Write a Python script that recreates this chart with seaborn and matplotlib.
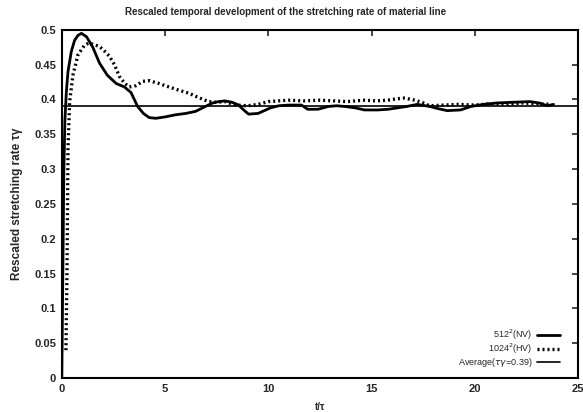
import matplotlib
matplotlib.use("Agg")
import matplotlib.pyplot as plt
import seaborn as sns
import pandas as pd

# ---- data ----
t_512 = [0, 0.05, 0.1, 0.15, 0.22, 0.3, 0.46, 0.62, 0.78, 0.95, 1.2, 1.5, 1.83, 2.2, 2.63,
         3.03, 3.35, 3.67, 3.95, 4.23, 4.55, 5.0, 5.5, 6.0, 6.48, 6.95, 7.3, 7.6, 7.9, 8.24,
         8.56, 8.8, 9.04, 9.5, 10.1, 10.5, 10.96, 11.6, 11.9, 12.4, 12.9, 13.3, 13.7, 14.2,
         14.65, 15.3, 15.8, 16.25, 16.7, 17.2, 17.8, 18.2, 18.65, 19.3, 19.8, 20.4, 21.05,
         21.8, 22.65, 23.1, 23.5, 23.8]
v_512 = [0.0, 0.15, 0.3, 0.37, 0.411, 0.44, 0.469, 0.485, 0.492, 0.495, 0.49, 0.475, 0.452,
         0.435, 0.423, 0.418, 0.41, 0.39, 0.38, 0.374, 0.373, 0.375, 0.378, 0.38, 0.383, 0.39,
         0.395, 0.397, 0.398, 0.396, 0.392, 0.385, 0.379, 0.380, 0.388, 0.391, 0.392, 0.392,
         0.386, 0.386, 0.39, 0.391, 0.39, 0.388, 0.385, 0.385, 0.386, 0.388, 0.39, 0.393, 0.39,
         0.387, 0.384, 0.385, 0.39, 0.393, 0.395, 0.396, 0.397, 0.395, 0.391, 0.393]

t_1024 = [0.2, 0.25, 0.3, 0.38, 0.54, 0.78, 1.1, 1.3, 1.55, 1.83, 2.05, 2.31, 2.55, 2.79,
          3.05, 3.27, 3.6, 3.91, 4.23, 4.7, 5.19, 5.7, 6.15, 6.6, 7.1, 7.5, 7.9, 8.4, 9.0,
          9.5, 10.0, 10.96, 11.7, 12.5, 13.2, 13.8, 14.65, 15.2, 15.77, 16.2, 16.57, 17.1,
          17.5, 17.8, 18.5, 19.2, 20.0, 20.8, 21.5, 22.3, 23.0, 23.7]
v_1024 = [0.04, 0.15, 0.33, 0.397, 0.435, 0.464, 0.478, 0.481, 0.479, 0.476, 0.47, 0.462,
          0.45, 0.433, 0.423, 0.418, 0.42, 0.426, 0.427, 0.423, 0.418, 0.413, 0.409, 0.403,
          0.397, 0.396, 0.397, 0.392, 0.391, 0.393, 0.397, 0.399, 0.398, 0.399, 0.398, 0.397,
          0.399, 0.398, 0.399, 0.401, 0.402, 0.399, 0.395, 0.391, 0.392, 0.393, 0.392, 0.394,
          0.393, 0.395, 0.394, 0.393]

average = 0.39

label_512 = "512$^2$(NV)"
label_1024 = "1024$^2$(HV)"
label_avg = "Average($\\tau\\gamma$=0.39)"

x_ticks = [0, 5, 10, 15, 20, 25]
y_ticks = [0, 0.05, 0.1, 0.15, 0.2, 0.25, 0.3, 0.35, 0.4, 0.45, 0.5]
y_ticklabels = ["0", "0.05", "0.1", "0.15", "0.2", "0.25", "0.3", "0.35", "0.4", "0.45", "0.5"]

# ---- plot ----
sns.set_style("white")
plt.rcParams["font.family"] = ["Liberation Sans", "DejaVu Sans"]
plt.rcParams["mathtext.fontset"] = "dejavusans"

fig = plt.figure(figsize=(5.83, 4.12), dpi=100)
ax = fig.add_axes([0.106, 0.0825, 0.886, 0.845])

df512 = pd.DataFrame({"t": t_512, "v": v_512})
df1024 = pd.DataFrame({"t": t_1024, "v": v_1024})

sns.lineplot(data=df512, x="t", y="v", ax=ax, color="black", linewidth=2.0,
             sort=False, label=label_512)
sns.lineplot(data=df1024, x="t", y="v", ax=ax, color="black", linewidth=2.4,
             linestyle=(0, (0.6, 0.9)), sort=False, label=label_1024)
ax.axhline(average, color="black", linewidth=1.2, label=label_avg)

ax.set_xlim(0, 25)
ax.set_ylim(0, 0.5)
ax.set_xticks(x_ticks)
ax.set_xticklabels([str(x) for x in x_ticks])
ax.set_yticks(y_ticks)
ax.set_yticklabels(y_ticklabels)
ax.tick_params(direction="in", length=4, width=1.2, top=True, right=True,
               labelsize=8, pad=4)
for lab in ax.get_xticklabels() + ax.get_yticklabels():
    lab.set_fontweight("bold")
for s in ax.spines.values():
    s.set_linewidth(1.5)
    s.set_color("black")

ax.set_xlabel("t/\u03c4", fontsize=7, fontweight="bold", labelpad=6)
ax.set_ylabel("Rescaled stretching rate \u03c4\u03b3", fontsize=8.5, fontweight="bold", labelpad=8)
fig.text(0.49, 0.97, "Rescaled temporal development of the stretching rate of material line",
         fontsize=7, fontweight="bold", ha="center", va="center")

leg = ax.legend(loc="lower right", bbox_to_anchor=(0.975, 0.01), frameon=False,
                markerfirst=False, fontsize=6.5, handlelength=2.6, labelspacing=0.0,
                borderaxespad=0.2, handletextpad=0.5)
for txt in leg.get_texts():
    txt.set_ha("right")

fig.savefig("out.png", dpi=100)
